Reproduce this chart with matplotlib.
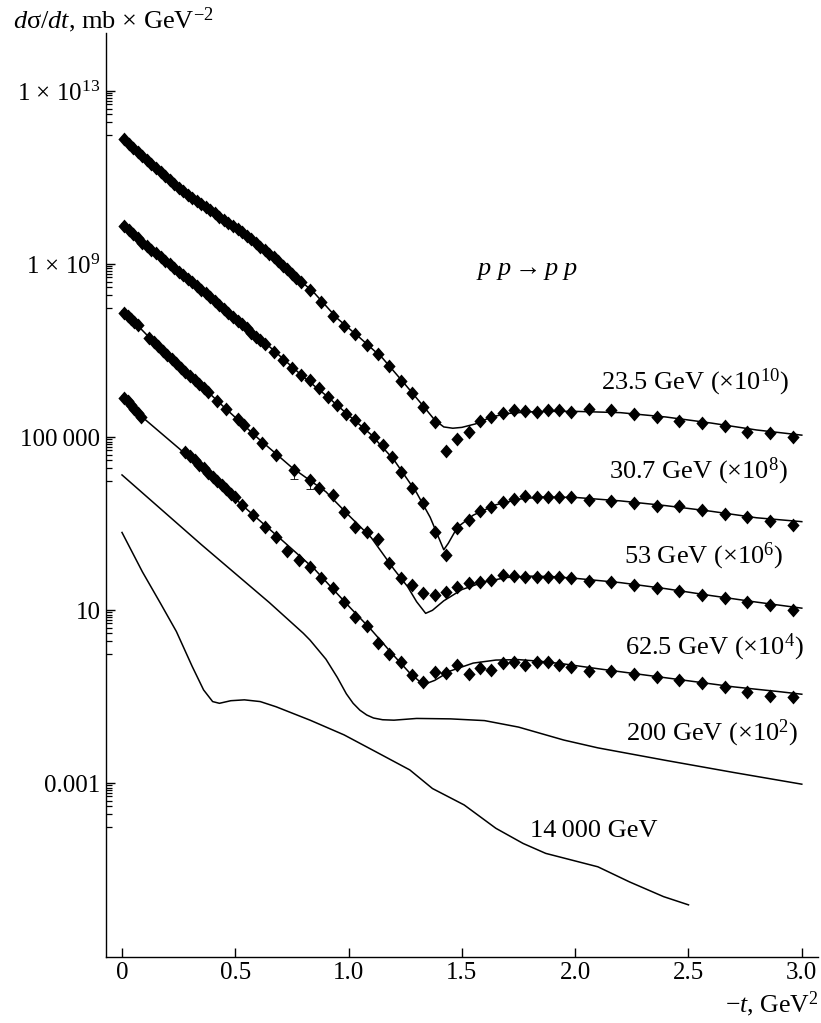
import numpy as np
import matplotlib
matplotlib.use('Agg')
import matplotlib.pyplot as plt
from matplotlib.path import Path
from matplotlib.ticker import FixedLocator, FixedFormatter, NullFormatter

plt.rcParams['font.family'] = ['Liberation Serif', 'DejaVu Serif']
plt.rcParams['mathtext.fontset'] = 'custom'
plt.rcParams['mathtext.rm'] = 'Liberation Serif'
plt.rcParams['mathtext.it'] = 'Liberation Serif:italic'

# scale factors applied to each energy on the plot
scale_235 = 1e10
scale_307 = 1e8
scale_53 = 1e6
scale_625 = 1e4
scale_200 = 1e2
scale_14000 = 1.0

# ---- measured points: -t (GeV^2) and log10(dsigma/dt, mb/GeV^2) ----
t_235 = [0.01, 0.03, 0.05, 0.07, 0.09, 0.11, 0.13, 0.15, 0.17, 0.19, 0.21, 0.23, 0.25, 0.27,
         0.29, 0.31, 0.33, 0.35, 0.37, 0.39, 0.41, 0.43, 0.45, 0.47, 0.49, 0.51, 0.53, 0.55,
         0.57, 0.59, 0.61, 0.63, 0.65, 0.67, 0.69, 0.71, 0.73, 0.75, 0.77, 0.79,
         0.83, 0.88, 0.93, 0.98, 1.03, 1.08, 1.13, 1.18, 1.23, 1.28, 1.33, 1.38, 1.43, 1.48,
         1.53, 1.58, 1.63, 1.68, 1.73, 1.78, 1.83, 1.88, 1.93, 1.98, 2.06, 2.16, 2.26, 2.36,
         2.46, 2.56, 2.66, 2.76, 2.86, 2.96]
lg_235 = [1.89, 1.79, 1.70, 1.60, 1.51, 1.41, 1.32, 1.22, 1.13, 1.04, 0.94, 0.85, 0.76, 0.69,
          0.61, 0.54, 0.47, 0.39, 0.32, 0.25, 0.18, 0.10, 0.03, -0.04, -0.12, -0.19, -0.26, -0.34,
          -0.42, -0.51, -0.59, -0.67, -0.76, -0.84, -0.93, -1.03, -1.12, -1.22, -1.31, -1.40,
          -1.59, -1.88, -2.19, -2.42, -2.61, -2.87, -3.07, -3.34, -3.69, -3.98, -4.29, -4.64, -5.31, -5.04,
          -4.88, -4.62, -4.52, -4.44, -4.37, -4.39, -4.41, -4.38, -4.38, -4.41, -4.35, -4.37, -4.47, -4.54,
          -4.62, -4.68, -4.75, -4.87, -4.91, -4.99]

t_307 = [0.01, 0.03, 0.05, 0.07, 0.09, 0.11, 0.13, 0.15, 0.17, 0.19, 0.21, 0.23, 0.25, 0.27,
         0.29, 0.31, 0.33, 0.35, 0.37, 0.39, 0.41, 0.43, 0.45, 0.47, 0.49, 0.51, 0.53, 0.55,
         0.57, 0.59, 0.61, 0.63,
         0.67, 0.71, 0.75, 0.79, 0.83, 0.87, 0.91, 0.95, 0.99, 1.03, 1.07, 1.11, 1.15, 1.19,
         1.23, 1.28, 1.33, 1.38, 1.43, 1.48, 1.53, 1.58, 1.63, 1.68, 1.73, 1.78, 1.83, 1.88,
         1.93, 1.98, 2.06, 2.16, 2.26, 2.36, 2.46, 2.56, 2.66, 2.76, 2.86, 2.96]
lg_307 = [1.89, 1.79, 1.70, 1.60, 1.50, 1.42, 1.33, 1.25, 1.17, 1.08, 1.00, 0.91, 0.83, 0.75,
          0.66, 0.58, 0.50, 0.41, 0.33, 0.25, 0.16, 0.07, -0.03, -0.12, -0.21, -0.30, -0.39, -0.48,
          -0.58, -0.67, -0.76, -0.85,
          -1.03, -1.21, -1.40, -1.56, -1.68, -1.87, -2.06, -2.25, -2.45, -2.60, -2.79, -2.99, -3.18, -3.45,
          -3.80, -4.18, -4.51, -5.18, -5.72, -5.09, -4.91, -4.70, -4.60, -4.49, -4.43, -4.36, -4.39, -4.39,
          -4.37, -4.37, -4.45, -4.47, -4.53, -4.59, -4.59, -4.67, -4.77, -4.85, -4.93, -5.03]

t_53 = [0.01, 0.025, 0.04, 0.055, 0.07,
        0.12, 0.14, 0.16, 0.18, 0.20, 0.22, 0.24, 0.26, 0.28, 0.30, 0.32, 0.34, 0.36, 0.38,
        0.42, 0.46, 0.51, 0.54, 0.58, 0.62, 0.68, 0.76, 0.83, 0.87, 0.93, 0.98, 1.03, 1.08,
        1.13, 1.18, 1.23, 1.28, 1.33, 1.38, 1.43, 1.48, 1.53, 1.58, 1.63, 1.68, 1.73, 1.78,
        1.83, 1.88, 1.93, 1.98, 2.06, 2.16, 2.26, 2.36, 2.46, 2.56, 2.66, 2.76, 2.86, 2.96]
lg_53 = [1.88, 1.81, 1.74, 1.67, 1.60,
         1.30, 1.20, 1.10, 1.00, 0.90, 0.80, 0.71, 0.61, 0.52, 0.42, 0.33, 0.23, 0.14, 0.04,
         -0.16, -0.35, -0.58, -0.72, -0.91, -1.12, -1.42, -1.76, -1.99, -2.18, -2.33, -2.72, -3.07, -3.18,
         -3.36, -3.91, -4.26, -4.42, -4.61, -4.65, -4.57, -4.45, -4.36, -4.34, -4.30, -4.18, -4.21, -4.22,
         -4.22, -4.22, -4.22, -4.26, -4.32, -4.34, -4.42, -4.49, -4.55, -4.65, -4.72, -4.80, -4.88, -4.99]
# a few 53 GeV points carry visible error bars
t_53_err = [0.76, 0.83]
lg_53_err = [-1.76, -1.99]
dlg_53_err = [0.2, 0.2]

t_625 = [0.01, 0.025, 0.04, 0.055, 0.07, 0.085,
         0.28, 0.30, 0.32, 0.34, 0.36, 0.38, 0.40, 0.42, 0.44, 0.46, 0.48, 0.50,
         0.53, 0.58, 0.63, 0.68, 0.73, 0.78, 0.83, 0.88, 0.93, 0.98, 1.03, 1.08, 1.13,
         1.18, 1.23, 1.28, 1.33, 1.38, 1.43, 1.48, 1.53, 1.58, 1.63, 1.68, 1.73, 1.78, 1.83,
         1.88, 1.93, 1.98, 2.06, 2.16, 2.26, 2.36, 2.46, 2.56, 2.66, 2.76, 2.86, 2.96]
lg_625 = [1.92, 1.83, 1.74, 1.65, 1.56, 1.47,
          0.66, 0.56, 0.47, 0.37, 0.28, 0.18, 0.09, -0.01, -0.11, -0.20, -0.30, -0.39,
          -0.57, -0.80, -1.07, -1.30, -1.64, -1.84, -1.99, -2.26, -2.49, -2.80, -3.15, -3.36, -3.76,
          -4.02, -4.19, -4.50, -4.65, -4.42, -4.44, -4.27, -4.47, -4.34, -4.38, -4.21, -4.19, -4.27, -4.20,
          -4.20, -4.27, -4.30, -4.40, -4.40, -4.47, -4.54, -4.61, -4.69, -4.78, -4.90, -4.98, -5.01]

# ---- model curves ----
tm_235 = [0.0, 0.1, 0.25, 0.4, 0.55, 0.7, 0.85, 0.95, 1.05, 1.15, 1.25, 1.33, 1.38, 1.42, 1.46,
          1.50, 1.56, 1.63, 1.70, 1.80, 1.90, 2.0, 2.2, 2.4, 2.6, 2.8, 3.0]
lm_235 = [1.93, 1.46, 0.78, 0.21, -0.34, -0.97, -1.67, -2.25, -2.70, -3.17, -3.78, -4.28, -4.60, -4.76, -4.79,
          -4.77, -4.69, -4.53, -4.45, -4.41, -4.40, -4.40, -4.43, -4.53, -4.67, -4.83, -4.95]

tm_307 = [0.0, 0.1, 0.25, 0.4, 0.5, 0.65, 0.8, 0.9, 1.0, 1.1, 1.2, 1.3, 1.36, 1.40, 1.42, 1.44,
          1.48, 1.55, 1.65, 1.75, 1.85, 2.0, 2.2, 2.4, 2.6, 2.8, 3.0]
lm_307 = [1.93, 1.46, 0.83, 0.21, -0.23, -0.90, -1.60, -2.03, -2.49, -2.94, -3.52, -4.28, -4.85, -5.35, -5.60, -5.45,
          -5.08, -4.80, -4.56, -4.43, -4.38, -4.39, -4.47, -4.58, -4.71, -4.86, -4.95]

tm_53 = [0.0, 0.07, 0.15, 0.3, 0.45, 0.6, 0.75, 0.9, 1.0, 1.1, 1.2, 1.26, 1.30, 1.34, 1.37, 1.42,
         1.5, 1.6, 1.7, 1.8, 1.9, 2.0, 2.2, 2.4, 2.6, 2.8, 3.0]
lm_53 = [1.92, 1.58, 1.15, 0.44, -0.30, -1.02, -1.70, -2.26, -2.80, -3.32, -4.05, -4.45, -4.80, -5.07, -5.00, -4.78,
         -4.52, -4.34, -4.24, -4.21, -4.22, -4.26, -4.36, -4.50, -4.66, -4.81, -4.95]

tm_625 = [0.0, 0.1, 0.25, 0.4, 0.55, 0.7, 0.85, 1.0, 1.1, 1.2, 1.27, 1.33, 1.38, 1.45, 1.55, 1.65,
          1.75, 1.85, 1.95, 2.1, 2.3, 2.5, 2.7, 2.9, 3.0]
lm_625 = [1.95, 1.42, 0.75, 0.06, -0.66, -1.35, -2.05, -2.90, -3.45, -4.05, -4.45, -4.72, -4.62, -4.40, -4.22, -4.15,
          -4.14, -4.18, -4.24, -4.35, -4.49, -4.63, -4.77, -4.88, -4.94]

tm_200 = [0.0, 0.2, 0.35, 0.5, 0.65, 0.8, 0.83, 0.90, 0.95, 0.99, 1.02, 1.05, 1.08, 1.11, 1.15, 1.2,
          1.3, 1.45, 1.6, 1.75, 1.95, 2.1, 2.4, 2.7, 3.0]
lm_200 = [2.13, 1.21, 0.52, -0.15, -0.82, -1.53, -1.69, -2.13, -2.55, -2.93, -3.15, -3.31, -3.42, -3.49, -3.53, -3.54,
          -3.50, -3.51, -3.55, -3.70, -4.00, -4.18, -4.47, -4.75, -5.02]

tm_14000 = [0.0, 0.09, 0.17, 0.24, 0.31, 0.36, 0.40, 0.43, 0.48, 0.54, 0.61, 0.68, 0.83, 0.98, 1.12,
            1.27, 1.37, 1.51, 1.65, 1.77, 1.87, 2.10, 2.24, 2.39, 2.50]
lm_14000 = [2.80, 1.89, 1.16, 0.51, -0.30, -0.84, -1.11, -1.15, -1.09, -1.07, -1.11, -1.23, -1.54, -1.88, -2.27,
            -2.69, -3.12, -3.50, -4.04, -4.39, -4.62, -4.93, -5.28, -5.62, -5.81]

# filled diamond, a little taller than wide
diamond = Path([(0, 1), (0.88, 0), (0, -1), (-0.88, 0), (0, 1)],
               [Path.MOVETO, Path.LINETO, Path.LINETO, Path.LINETO, Path.CLOSEPOLY])

W, H = 821, 1023
fig = plt.figure(figsize=(W / 100, H / 100), dpi=100)
ax = fig.add_axes([106 / W, 66.5 / H, 712 / W, 923.5 / H])
ax.set_yscale('log')

curves = [(tm_235, lm_235, scale_235), (tm_307, lm_307, scale_307), (tm_53, lm_53, scale_53),
          (tm_625, lm_625, scale_625), (tm_200, lm_200, scale_200), (tm_14000, lm_14000, scale_14000)]
for tt, ll, s in curves:
    ax.plot(tt, 10 ** np.array(ll) * s, color='black', lw=1.1, solid_joinstyle='round')

points = [(t_235, lg_235, scale_235), (t_307, lg_307, scale_307),
          (t_53, lg_53, scale_53), (t_625, lg_625, scale_625)]
for tt, ll, s in points:
    ax.plot(tt, 10 ** np.array(ll) * s, ls='none', marker=diamond, ms=10,
            color='black', mec='black', mew=0)

# error bars on the 53 GeV set (only the lower half shows past the marker)
v = 10 ** np.array(lg_53_err) * scale_53
d = np.array(dlg_53_err)
ax.errorbar(t_53_err, v, yerr=[v * (1 - 10 ** -d), np.zeros_like(v)], fmt='none',
            ecolor='black', elinewidth=0.6, capsize=3, capthick=0.6)

ax.set_xlim(-0.0706, 3.0715)
ax.set_ylim(10 ** -7.004, 10 ** 14.348)

for side in ['top', 'right']:
    ax.spines[side].set_visible(False)
for side in ['left', 'bottom']:
    ax.spines[side].set_linewidth(1.0)

# x ticks
ax.xaxis.set_major_locator(FixedLocator([0, 0.5, 1.0, 1.5, 2.0, 2.5, 3.0]))
ax.xaxis.set_major_formatter(FixedFormatter(['0', '0.5', '1.0', '1.5', '2.0', '2.5', '3.0']))
ax.tick_params(axis='x', direction='in', length=6.5, width=1.0, labelsize=18, pad=4)

# y ticks: labelled every fourth decade, with one decade of minor ticks under each
major_exp = [-3, 1, 5, 9, 13]
major_lbl = ['0.001', '10', '100\u2009000', '1 \u00d7 10$^{9}$', '1 \u00d7 10$^{13}$']
ax.yaxis.set_major_locator(FixedLocator([10.0 ** e for e in major_exp]))
ax.yaxis.set_major_formatter(FixedFormatter(major_lbl))
minor = [k * 10.0 ** (e - 1) for e in major_exp for k in range(1, 10)]
ax.yaxis.set_minor_locator(FixedLocator(minor))
ax.yaxis.set_minor_formatter(NullFormatter())
ax.tick_params(axis='y', which='major', direction='in', length=6.5, width=1.0, labelsize=18, pad=4)
ax.tick_params(axis='y', which='minor', direction='in', length=4.3, width=0.9)

# axis titles
fig.text(13 / W, 1 - 28 / H, r'$d$σ$/dt$, mb $\times$ GeV$^{-2}$', fontsize=19,
         ha='left', va='baseline')
fig.text(818 / W, 1 - 1012 / H, r'$-t$, GeV$^{2}$', fontsize=18.5, ha='right', va='baseline')

fig.text(476 / W, 1 - 275 / H, r'$p\ p \rightarrow p\ p$', fontsize=19, ha='left', va='baseline')

# energy labels
labels = [('23.5 GeV ($\\times10^{10}$)', 789, 389),
          ('30.7 GeV ($\\times10^{8}$)', 788, 478),
          ('53 GeV ($\\times10^{6}$)', 783, 563),
          ('62.5 GeV ($\\times10^{4}$)', 804, 654),
          ('200 GeV ($\\times10^{2}$)', 798, 740),
          ('14\u2009000 GeV', 657, 837)]
for txt, xr, yb in labels:
    fig.text(xr / W, 1 - yb / H, txt, fontsize=19, ha='right', va='baseline')

fig.savefig('out.png', dpi=100)
